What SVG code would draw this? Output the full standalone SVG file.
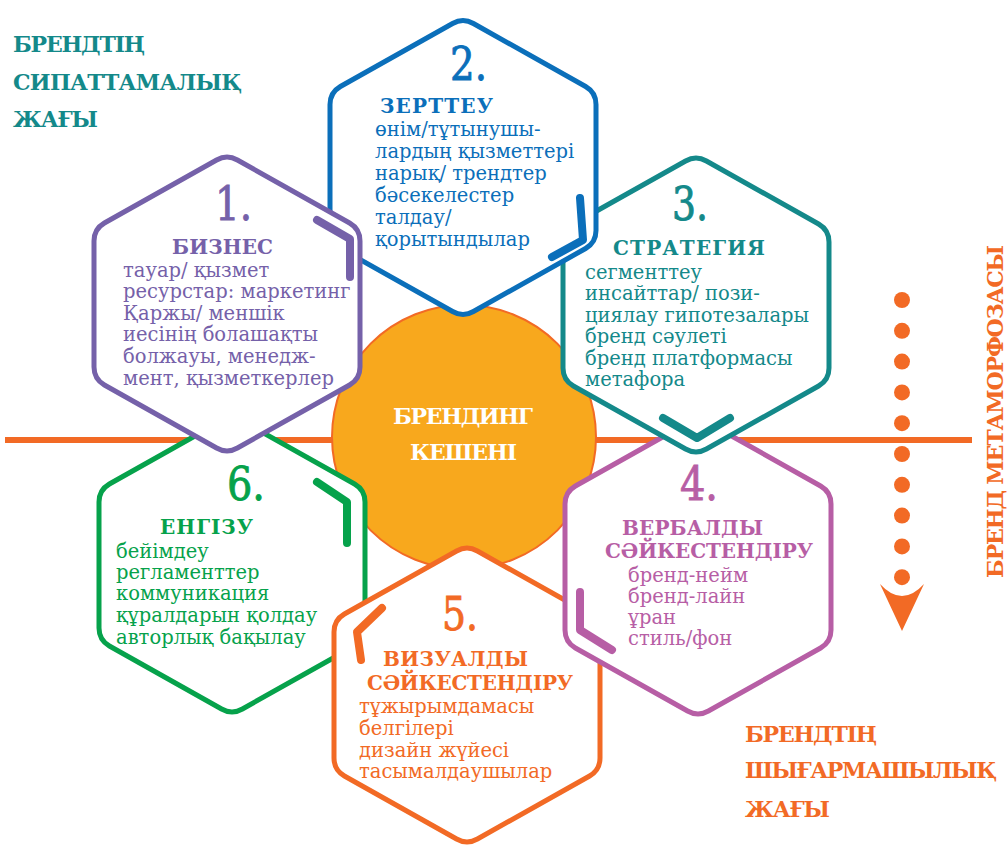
<svg xmlns="http://www.w3.org/2000/svg" xmlns:xlink="http://www.w3.org/1999/xlink" width="1008" height="846" viewBox="0 0 1008 846">
<style>
text{font-family:"DejaVu Serif","Liberation Serif",serif}
.num{font-size:46px;stroke-width:0.9}
.ttl{font-size:20px;font-weight:bold}
.bd{font-size:19.5px}
.hd{font-size:22px;font-weight:bold}
.hex{fill:#fff;stroke-width:5}
.acc{fill:none;stroke-width:8;stroke-linecap:round;stroke-linejoin:round}
.c1{stroke:#7561A9}.t1{fill:#7561A9}
.c2{stroke:#0B6FBA}.t2{fill:#0B6FBA}
.c3{stroke:#14898A}.t3{fill:#14898A}
.c4{stroke:#B75EA5}.t4{fill:#B75EA5}
.c5{stroke:#F26A25}.t5{fill:#F26A25}
.c6{stroke:#06A24B}.t6{fill:#06A24B}
</style>
<defs>
<path id="hx" d="M-10.4,-144 Q0,-150 10.4,-144 L122.6,-81 Q133,-75 133,-63 L133,63 Q133,75 122.6,81 L10.4,144 Q0,150 -10.4,144 L-122.6,81 Q-133,75 -133,63 L-133,-63 Q-133,-75 -122.6,-81 Z"/>
</defs>
<rect width="1008" height="846" fill="#fff"/>

<g id="labels">
<text class="hd t3" x="13" y="52" textLength="132" lengthAdjust="spacing">БРЕНДТІҢ</text>
<text class="hd t3" x="13" y="90" textLength="229" lengthAdjust="spacing">СИПАТТАМАЛЫҚ</text>
<text class="hd t3" x="13" y="127" textLength="85" lengthAdjust="spacing">ЖАҒЫ</text>
<text class="hd t5" x="745" y="742" textLength="132" lengthAdjust="spacing">БРЕНДТІҢ</text>
<text class="hd t5" x="745" y="778" textLength="252" lengthAdjust="spacing">ШЫҒАРМАШЫЛЫҚ</text>
<text class="hd t5" x="745" y="817" textLength="85" lengthAdjust="spacing">ЖАҒЫ</text>
<text class="hd t5" transform="translate(1003,411.5) rotate(-90)" text-anchor="middle" textLength="333" lengthAdjust="spacing">БРЕНД МЕТАМОРФОЗАСЫ</text>
</g>

<g id="connectors">
<line x1="5" y1="440" x2="972" y2="440" stroke="#F26A25" stroke-width="6"/>
<g fill="#F26A25">
<circle cx="902" cy="300" r="8"/><circle cx="902" cy="330.8" r="8"/><circle cx="902" cy="361.6" r="8"/><circle cx="902" cy="392.4" r="8"/><circle cx="902" cy="423.2" r="8"/><circle cx="902" cy="454" r="8"/><circle cx="902" cy="484.8" r="8"/><circle cx="902" cy="515.6" r="8"/><circle cx="902" cy="546.4" r="8"/><circle cx="902" cy="577.2" r="8"/>
<path d="M880,584 Q902,608 924,584 L902,631 Z"/>
</g>
</g>

<g id="center">
<circle cx="464" cy="437" r="132" fill="#F8A81D" stroke="#F26A25" stroke-width="2"/>
<text class="hd" fill="#fff" x="463" y="424" text-anchor="middle" textLength="140" lengthAdjust="spacing">БРЕНДИНГ</text>
<text class="hd" fill="#fff" x="463.5" y="460" text-anchor="middle" textLength="107" lengthAdjust="spacing">КЕШЕНІ</text>
</g>

<g id="node6">
<use xlink:href="#hx" href="#hx" class="hex c6" transform="translate(232,565)"/>
<path class="acc c6" d="M317,482 L347,502 L347,543"/>
<text class="num t6 c6" x="227" y="500" textLength="38" lengthAdjust="spacingAndGlyphs">6.</text>
<text class="ttl t6" x="160" y="534" textLength="93" lengthAdjust="spacing">ЕНГІЗУ</text>
<text class="bd t6" x="116" y="558">бейімдеу</text>
<text class="bd t6" x="116" y="579">регламенттер</text>
<text class="bd t6" x="116" y="600">коммуникация</text>
<text class="bd t6" x="116" y="622">құралдарын қолдау</text>
<text class="bd t6" x="116" y="644">авторлық бақылау</text>
</g>

<g id="node5">
<use xlink:href="#hx" href="#hx" class="hex c5" transform="translate(467,695)"/>
<path class="acc c5" d="M382,608 L357,632 L361,660"/>
<text class="num t5 c5" x="442" y="630" textLength="36" lengthAdjust="spacingAndGlyphs">5.</text>
<text class="ttl t5" x="383" y="666" textLength="145" lengthAdjust="spacing">ВИЗУАЛДЫ</text>
<text class="ttl t5" x="367" y="690" textLength="206" lengthAdjust="spacing">СӘЙКЕСТЕНДІРУ</text>
<text class="bd t5" x="359" y="713">тұжырымдамасы</text>
<text class="bd t5" x="359" y="735">белгілері</text>
<text class="bd t5" x="359" y="757">дизайн жүйесі</text>
<text class="bd t5" x="359" y="778">тасымалдаушылар</text>
</g>

<g id="node4">
<use xlink:href="#hx" href="#hx" class="hex c4" transform="translate(698,567)"/>
<path class="acc c4" d="M580,592 L580,630 L612,650"/>
<text class="num t4 c4" x="680" y="500" textLength="38" lengthAdjust="spacingAndGlyphs">4.</text>
<text class="ttl t4" x="622" y="535" textLength="141" lengthAdjust="spacing">ВЕРБАЛДЫ</text>
<text class="ttl t4" x="605" y="558" textLength="208" lengthAdjust="spacing">СӘЙКЕСТЕНДІРУ</text>
<text class="bd t4" x="628" y="582">бренд-нейм</text>
<text class="bd t4" x="628" y="603">бренд-лайн</text>
<text class="bd t4" x="628" y="624">ұран</text>
<text class="bd t4" x="628" y="645">стиль/фон</text>
</g>

<g id="node3">
<use xlink:href="#hx" href="#hx" class="hex c3" transform="translate(696,305)"/>
<path class="acc c3" d="M663,418 L697,438 L730,418"/>
<text class="num t3 c3" x="672" y="220" textLength="36" lengthAdjust="spacingAndGlyphs">3.</text>
<text class="ttl t3" x="613" y="255" textLength="152" lengthAdjust="spacing">СТРАТЕГИЯ</text>
<text class="bd t3" x="585" y="279">сегменттеу</text>
<text class="bd t3" x="585" y="300">инсайттар/ пози-</text>
<text class="bd t3" x="585" y="322">циялау гипотезалары</text>
<text class="bd t3" x="585" y="343">бренд сәулеті</text>
<text class="bd t3" x="585" y="365">бренд платформасы</text>
<text class="bd t3" x="585" y="386">метафора</text>
</g>

<g id="node2">
<use xlink:href="#hx" href="#hx" class="hex c2" transform="translate(463,167.5)"/>
<path class="acc c2" d="M580,198 L583,240 L552,257"/>
<text class="num t2 c2" x="450" y="80" textLength="37" lengthAdjust="spacingAndGlyphs">2.</text>
<text class="ttl t2" x="380" y="113" textLength="113" lengthAdjust="spacing">ЗЕРТТЕУ</text>
<text class="bd t2" x="375" y="136">өнім/тұтынушы-</text>
<text class="bd t2" x="375" y="158">лардың қызметтері</text>
<text class="bd t2" x="375" y="180">нарық/ трендтер</text>
<text class="bd t2" x="375" y="202">бәсекелестер</text>
<text class="bd t2" x="375" y="224">талдау/</text>
<text class="bd t2" x="375" y="246">қорытындылар</text>
</g>

<g id="node1">
<use xlink:href="#hx" href="#hx" class="hex c1" transform="translate(227,304)"/>
<path class="acc c1" d="M317,220 L350,239 L350,277"/>
<text class="num t1 c1" x="215" y="220" textLength="37" lengthAdjust="spacingAndGlyphs">1.</text>
<text class="ttl t1" x="172" y="254" textLength="101" lengthAdjust="spacing">БИЗНЕС</text>
<text class="bd t1" x="123" y="277">тауар/ қызмет</text>
<text class="bd t1" x="123" y="298">ресурстар: маркетинг</text>
<text class="bd t1" x="123" y="320">Қаржы/ меншік</text>
<text class="bd t1" x="123" y="341">иесінің болашақты</text>
<text class="bd t1" x="123" y="363">болжауы, менедж-</text>
<text class="bd t1" x="123" y="385">мент, қызметкерлер</text>
</g>
</svg>
